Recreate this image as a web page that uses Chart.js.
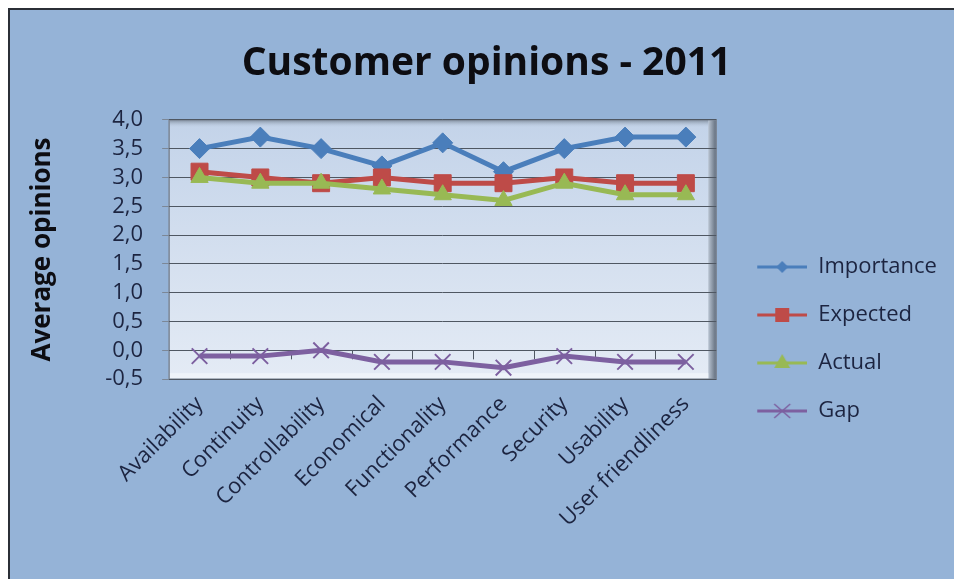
<!DOCTYPE html>
<html>
<head>
<meta charset="utf-8">
<script src="https://cdn.jsdelivr.net/npm/chart.js@4.4.0/dist/chart.umd.min.js"></script>
<style>
  body { margin: 0; background: #ffffff; }
  #box {
    position: absolute; left: 8px; top: 8px; width: 946px; height: 571px;
    background: #95b3d7; border-top: 2px solid #2b2f36; border-left: 2px solid #2b2f36;
  }
  #chartCanvas { display: block; }
</style>
</head>
<body>
<div id="box"><canvas id="chartCanvas" width="944" height="569"></canvas></div>
<script>
const categories = [
  "Availability", "Continuity", "Controllability", "Economical", "Functionality",
  "Performance", "Security", "Usability", "User friendliness",
];
const importance = [3.5, 3.7, 3.5, 3.2, 3.6, 3.1, 3.5, 3.7, 3.7];
const expected = [3.1, 3.0, 2.9, 3.0, 2.9, 2.9, 3.0, 2.9, 2.9];
const actual = [3.0, 2.9, 2.9, 2.8, 2.7, 2.6, 2.9, 2.7, 2.7];
const gap = [-0.1, -0.1, 0.0, -0.2, -0.2, -0.3, -0.1, -0.2, -0.2];
const seriesNames = ["Importance", "Expected", "Actual", "Gap"];

const FONT = "'Open Sans', sans-serif";
const textColour = "#1c2440";
const colours = ["#4a7ebb", "#be4b48", "#98b954", "#7d60a0"];
const markers = ["rectRot", "rect", "triangle", "crossRot"];

// draws the little marker used in the legend
function drawMarker(ctx, style, x, y, colour) {
  ctx.fillStyle = colour;
  ctx.strokeStyle = colour;
  ctx.beginPath();
  if (style === "rectRot") {
    ctx.moveTo(x, y - 6); ctx.lineTo(x + 6, y); ctx.lineTo(x, y + 6); ctx.lineTo(x - 6, y);
    ctx.closePath(); ctx.fill();
  } else if (style === "rect") {
    ctx.rect(x - 7, y - 7, 14, 14); ctx.fill();
  } else if (style === "triangle") {
    ctx.moveTo(x, y - 9); ctx.lineTo(x + 8, y + 5); ctx.lineTo(x - 8, y + 5);
    ctx.closePath(); ctx.fill();
  } else {
    ctx.lineWidth = 1.5;
    ctx.moveTo(x - 8, y - 7); ctx.lineTo(x + 8, y + 7);
    ctx.moveTo(x + 8, y - 7); ctx.lineTo(x - 8, y + 7);
    ctx.stroke();
  }
}

// legend symbol: empty gap on the left, then line with marker
const legendGap = 15;
const legendLine = 50;
function makeLegendImage(i) {
  const c = document.createElement("canvas");
  c.width = legendGap + legendLine;
  c.height = 22;
  const ctx = c.getContext("2d");
  ctx.strokeStyle = colours[i];
  ctx.lineWidth = 3;
  ctx.beginPath();
  ctx.moveTo(legendGap, 11); ctx.lineTo(legendGap + legendLine, 11); ctx.stroke();
  drawMarker(ctx, markers[i], legendGap + legendLine / 2, 11, colours[i]);
  return c;
}
const legendImages = seriesNames.map((n, i) => makeLegendImage(i));

const plotFrame = {
  id: "plotFrame",
  beforeDraw(chart) {
    const { ctx, chartArea: a } = chart;
    ctx.save();
    const g = ctx.createLinearGradient(0, a.top, 0, a.bottom);
    g.addColorStop(0, "#c3d3e9");
    g.addColorStop(1, "#e4ebf5");
    ctx.fillStyle = g;
    ctx.fillRect(a.left, a.top, a.right - a.left, a.bottom - a.top);
    // right wall
    const w = ctx.createLinearGradient(a.right - 8, 0, a.right, 0);
    w.addColorStop(0, "#b9c4d2");
    w.addColorStop(1, "#5f6b7a");
    ctx.fillStyle = w;
    ctx.fillRect(a.right - 8, a.top, 8, a.bottom - a.top);
    // top shadow
    const t = ctx.createLinearGradient(0, a.top, 0, a.top + 8);
    t.addColorStop(0, "#7e8a9a");
    t.addColorStop(1, "rgba(195,211,233,0)");
    ctx.fillStyle = t;
    ctx.fillRect(a.left, a.top, a.right - a.left - 8, 8);
    // bottom floor
    ctx.fillStyle = "#eef3f9";
    ctx.fillRect(a.left, a.bottom - 6, a.right - a.left - 8, 6);
    ctx.strokeStyle = "#7c8796";
    ctx.lineWidth = 1.5;
    ctx.strokeRect(a.left, a.top, a.right - a.left, a.bottom - a.top);
    ctx.restore();
  },
  beforeDatasetsDraw(chart) {
    // small category tick marks hanging below the zero line
    const { ctx, scales } = chart;
    const y0 = scales.y.getPixelForValue(0);
    ctx.save();
    ctx.strokeStyle = "#4f5762";
    ctx.lineWidth = 1;
    ctx.beginPath();
    for (let i = 0; i < categories.length - 1; i++) {
      const x = Math.round((scales.x.getPixelForValue(i) + scales.x.getPixelForValue(i + 1)) / 2) + 0.5;
      ctx.moveTo(x, y0); ctx.lineTo(x, y0 + 9);
    }
    ctx.stroke();
    ctx.restore();
  },
};

const allSeries = [importance, expected, actual, gap];
const radii = [10, 12, 10, 11];
const datasets = [];
for (let i = 0; i < allSeries.length; i++) {
  datasets.push({
    label: seriesNames[i],
    data: allSeries[i],
    borderColor: colours[i],
    backgroundColor: colours[i],
    pointBorderColor: colours[i],
    borderWidth: 5,
    pointStyle: markers[i],
    pointRadius: radii[i],
    pointBorderWidth: i === 3 ? 2 : 1,
    tension: 0,
    order: 4 - i,
  });
}

new Chart(document.getElementById("chartCanvas"), {
  type: "line",
  data: { labels: categories, datasets: datasets },
  plugins: [plotFrame],
  options: {
    responsive: false,
    animation: false,
    layout: { padding: { left: 17, right: 8, top: 0, bottom: 43 } },
    plugins: {
      tooltip: { enabled: false },
      title: {
        display: true,
        text: "Customer opinions - 2011",
        color: "#0d0d12",
        font: { family: FONT, size: 39, weight: "bold" },
        padding: { top: 30, bottom: 33 },
      },
      legend: {
        position: "right",
        // empty title only pushes the entries down to where they sit in the original
        title: { display: true, text: " ", color: textColour, font: { size: 10 }, padding: { top: 120, bottom: 0 } },
        labels: {
          usePointStyle: true,
          pointStyleWidth: legendGap + legendLine,
          padding: 26,
          color: textColour,
          font: { family: FONT, size: 22 },
          generateLabels: () =>
            seriesNames.map((name, i) => ({
              text: name,
              fontColor: textColour,
              pointStyle: legendImages[i],
              fillStyle: colours[i],
              strokeStyle: colours[i],
              lineWidth: 0,
              hidden: false,
              datasetIndex: i,
            })),
        },
      },
    },
    scales: {
      x: {
        offset: true,
        grid: { display: false },
        border: { display: false },
        ticks: {
          color: textColour,
          font: { family: FONT, size: 22 },
          minRotation: 45,
          maxRotation: 45,
          padding: 4,
        },
      },
      y: {
        min: -0.5,
        max: 4,
        border: { display: false },
        grid: { color: "#4f5762", lineWidth: 1, drawTicks: true, tickLength: 7, tickColor: "#7c8796" },
        ticks: {
          stepSize: 0.5,
          autoSkip: false,
          color: textColour,
          font: { family: FONT, size: 22 },
          padding: 19,
          callback: (v) => v.toFixed(1).replace(".", ","),
        },
        title: {
          display: true,
          text: "Average opinions",
          color: "#0d0d12",
          font: { family: FONT, size: 26, weight: "bold" },
          padding: { top: 0, bottom: 28 },
        },
      },
    },
  },
});
</script>
</body>
</html>
